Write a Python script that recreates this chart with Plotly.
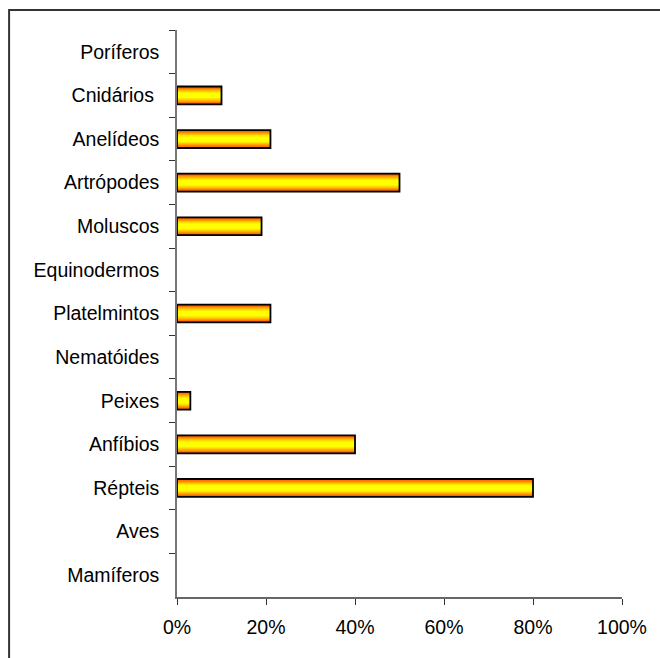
import plotly.graph_objects as go

categories = ["Poríferos", "Cnidários\u00a0", "Anelídeos", "Artrópodes", "Moluscos",
              "Equinodermos", "Platelmintos", "Nematóides", "Peixes", "Anfíbios",
              "Répteis", "Aves", "Mamíferos"]
values = [0, 10, 21, 50, 19, 0, 21, 0, 3, 40, 80, 0, 0]
x_ticks = [0, 20, 40, 60, 80, 100]

# layered bars to imitate the orange-yellow-orange gradient
layers = [
    (0.41, "#D05000"),
    (0.36, "#FF7400"),
    (0.30, "#FF9C00"),
    (0.24, "#FFC400"),
    (0.18, "#FFE800"),
    (0.12, "#FFFF00"),
]

fig = go.Figure()
for w, c in layers:
    fig.add_trace(go.Bar(
        x=values, y=categories, orientation="h", width=w,
        marker=dict(color=c, line=dict(width=0)),
        showlegend=False, hoverinfo="skip",
    ))
# outline (no outline on empty bars)
fig.add_trace(go.Bar(
    x=values, y=categories, orientation="h", width=0.41,
    marker=dict(color="rgba(0,0,0,0)",
                line=dict(color="#000000", width=[1.8 if v > 0 else 0 for v in values])),
    showlegend=False,
))

font = dict(family="Liberation Sans, Arial, sans-serif", size=19.5, color="#000000")

fig.update_layout(
    width=660, height=658,
    margin=dict(l=177, r=38, t=30, b=61),
    barmode="overlay",
    paper_bgcolor="white", plot_bgcolor="white",
    font=font,
    xaxis=dict(
        range=[0, 100], tickvals=x_ticks, ticktext=[f"{v}%" for v in x_ticks],
        showline=True, linecolor="#666666", linewidth=1.5,
        ticks="outside", ticklen=6, tickwidth=1.3, tickcolor="#333333",
        ticklabelstandoff=6,
        showgrid=False, zeroline=False, tickfont=font,
    ),
    yaxis=dict(
        categoryorder="array", categoryarray=categories,
        range=[len(categories) - 0.5, -0.5],
        showline=True, linecolor="#777777", linewidth=1.5,
        ticks="outside", ticklen=6, tickwidth=1.3, tickcolor="#333333",
        tickson="boundaries", ticklabelstandoff=12,
        showgrid=False, zeroline=False, tickfont=font,
    ),
    shapes=[dict(
        type="rect", xref="paper", yref="paper",
        x0=-0.3773, y0=-0.3, x1=1.3, y1=1.0353,
        line=dict(color="#333333", width=2), fillcolor="rgba(0,0,0,0)",
        layer="above",
    )],
)

fig.write_html("out.html")
